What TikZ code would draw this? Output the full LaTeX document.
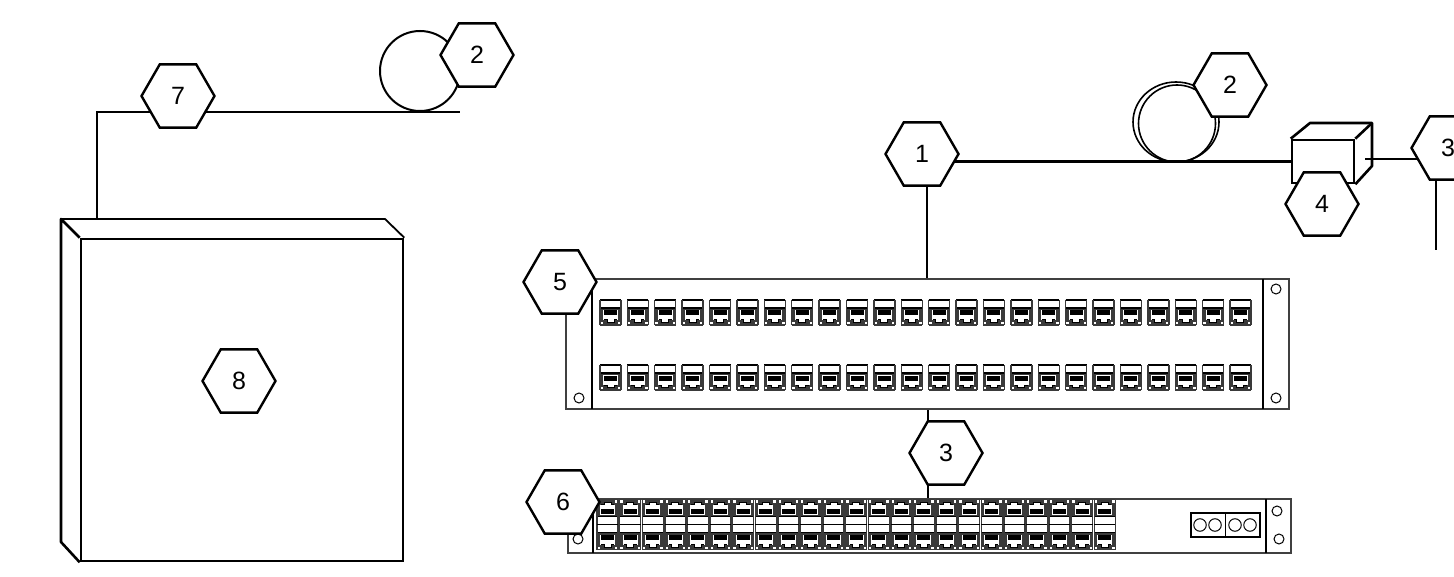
\documentclass[tikz,border=0pt]{standalone}
\usepackage{fontspec}
\setmainfont{Liberation Sans}
\usepackage{xcolor}
\usetikzlibrary{shapes.geometric, backgrounds}
\definecolor{portgray}{HTML}{3A3A3A}
\tikzstyle{wire} = [line width=2.6pt, draw=black]
\tikzstyle{hexnode} = [regular polygon, regular polygon sides=6, minimum size=73pt,
inner sep=0pt, draw=black, line width=2.4pt, fill=white, text=black,
font=\fontsize{25}{25}\selectfont]
\tikzstyle{racknode} = [rectangle, draw=black!75, line width=1.6pt, inner sep=0pt, fill=white]
\tikzstyle{earline} = [line width=1.6pt, draw=black]
\tikzstyle{hole} = [circle, draw=black, line width=1pt, inner sep=0pt, minimum size=10pt]
\tikzset{
  port/.pic={
    \fill[white] (0,0) rectangle (21,25);
    \fill[portgray] (0,8) rectangle (21,25);
    \fill[white] (3,10) rectangle (18,20);
    \fill[black] (4,10.5) rectangle (17,15.5);
    \fill[white] (7,17) rectangle (14,23);
    \fill[white] (0,22) rectangle (3,25);
    \fill[white] (18,22) rectangle (21,25);
    \draw[black, line width=1.4pt] (0,0) -- (21,0) (0,8) -- (21,8);
    \draw[portgray, line width=1.4pt] (0,0) -- (0,25) (21,0) -- (21,25) (0,25) -- (21,25);
    \draw[black, line width=1pt] (4,20) -- (7,20) -- (7,22.5) -- (14,22.5) -- (14,20) -- (17,20);
  }
}
\begin{document}
\begin{tikzpicture}[x=1pt,y=-1pt]
  \clip (0,0) rectangle (1454,577);
  % cabinet
  \node [racknode, draw=black, line width=2.6pt, minimum width=322pt, minimum height=322pt] (cabinet) at (242,400) {};
  \draw [wire, line join=round] (cabinet.north west) -- (61,219) -- (61,542) -- (cabinet.south west);
  \draw [line width=1.8pt, line join=round] (61,219) -- (385,219) -- (cabinet.north east);
  % patch panel
  \node [racknode, minimum width=723pt, minimum height=130pt] (panel) at (927.5,344) {};
  \draw [earline] (592,279) -- (592,409) (1263,279) -- (1263,409);
  \node [hole] (panelholeA) at (579,398) {};
  \node [hole] (panelholeB) at (1276,289) {};
  \node [hole] (panelholeC) at (1276,398) {};
  \foreach \i in {0,...,23} {
    \pic at ({600+27.39*\i},300) {port};
    \pic at ({600+27.39*\i},365) {port};
  }
  % switch
  \node [racknode, minimum width=723pt, minimum height=54pt] (switch) at (929.5,526) {};
  \draw [earline] (593,499) -- (593,553) (1266,499) -- (1266,553);
  \node [hole] (switchholeA) at (578,539) {};
  \node [hole] (switchholeB) at (1277,511) {};
  \node [hole] (switchholeC) at (1279,539) {};
  \foreach \i in {0,...,22} {
    \pic [yscale=-1] at ({597+22.6*\i},524.5) {port};
    \pic at ({597+22.6*\i},524.5) {port};
  }
  \node [rectangle, draw=black, line width=1.2pt, inner sep=0pt, minimum width=69pt, minimum height=24pt] (uplink) at (1225.5,525) {};
  \draw [line width=1.2pt] (uplink.north) -- (uplink.south);
  \foreach \x in {1200,1215,1235,1250}
    \node [hole, minimum size=12.5pt] at (\x,525) {};
  % coils
  \draw [line width=2pt] (420,71) circle [radius=40];
  \draw [line width=1.6pt] (1176,122) ellipse [x radius=43, y radius=40];
  \draw [line width=1.6pt] (1177,123.5) circle [radius=38.5];
  % labels
  \node [hexnode] (seven) at (178,96) {7};
  \node [hexnode] (twoA) at (477,55) {2};
  \node [hexnode] (one) at (922,154) {1};
  \node [hexnode] (twoB) at (1230,85) {2};
  \node [hexnode] (threeA) at (1448,148) {3};
  \node [hexnode] (four) at (1322,204) {4};
  \node [hexnode] (five) at (560,282) {5};
  \node [hexnode] (six) at (563,502) {6};
  \node [hexnode] (threeB) at (946,453) {3};
  \node [hexnode] (eight) at (239,381) {8};
  \coordinate (cabinetup) at (97,218);
  \coordinate (coilend) at (460,112);
  \coordinate (paneltop) at (927,279);
  \coordinate (panelbot) at (928,409);
  \coordinate (switchtop) at (928,499);
  \coordinate (converterout) at (1365,159);
  \coordinate (fibreend) at (1436,250);
  \begin{scope}[on background layer]
    % converter
    \node [rectangle, draw=black, line width=2.6pt, fill=white, inner sep=0pt, minimum width=62pt, minimum height=43pt] (converter) at (1323,161.5) {};
    \draw [wire, line join=round] (converter.north west) -- (1310,123) -- (1372,123) -- (1372,166) -- (converter.south east);
    \draw [wire] (converter.north east) -- (1372,123);
    \draw [wire] (cabinetup) |- (coilend);
    \draw [wire] (one.center |- converter.west) -- (converter.west);
    \draw [wire] (paneltop |- one.center) -- (paneltop);
    \draw [wire] (panelbot) -- (switchtop);
    \draw [wire] (fibreend) -- (fibreend |- threeA.center);
    \draw [wire] (converterout) -- (threeA.center |- converterout);
  \end{scope}
\end{tikzpicture}
\end{document}
